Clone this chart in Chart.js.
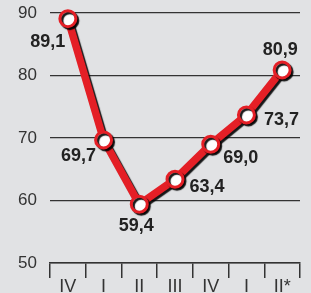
<!doctype html>
<html>
  <head>
    <meta charset="UTF-8" />
    <script src="https://cdn.jsdelivr.net/npm/chart.js"></script>
    <style>
      html, body { margin: 0; padding: 0; background: #e1e2e4; overflow: hidden; }
      canvas { display: block; }
    </style>
  </head>
  <body>
    <canvas id="chart" width="311" height="293"></canvas>
    <script>
      // données
      const quarters = ['IV', 'I', 'II', 'III', 'IV', 'I', 'II*'];
      const values = [89.1, 69.7, 59.4, 63.4, 69.0, 73.7, 80.9];
      const yTicks = [50, 60, 70, 80, 90];

      // décalage des étiquettes (px) par point
      const labelOffsets = [[-20, 23], [-25, 16], [-3, 22], [32, 8], [30, 14], [35, 5], [-2, -20]];

      const shadowPlugin = {
        id: 'shadow',
        beforeDatasetsDraw(chart) {
          const ctx = chart.ctx;
          ctx.save();
          ctx.shadowColor = 'rgba(0,0,0,0.9)';
          ctx.shadowOffsetX = 2;
          ctx.shadowOffsetY = 2;
          ctx.shadowBlur = 1;
        },
        afterDatasetsDraw(chart) {
          chart.ctx.restore();
        },
      };

      const labelPlugin = {
        id: 'labels',
        afterDatasetsDraw(chart) {
          const ctx = chart.ctx;
          const meta = chart.getDatasetMeta(0);
          ctx.save();
          ctx.font = 'bold 18px "Liberation Sans", Arial, sans-serif';
          ctx.fillStyle = '#222';
          ctx.textAlign = 'center';
          ctx.textBaseline = 'middle';
          meta.data.forEach((pt, i) => {
            const txt = values[i].toFixed(1).replace('.', ',');
            ctx.fillText(txt, pt.x + labelOffsets[i][0], pt.y + labelOffsets[i][1]);
          });
          ctx.restore();
        },
      };

      new Chart(document.getElementById('chart'), {
        type: 'line',
        data: {
          labels: quarters,
          datasets: [
            {
              data: values,
              borderColor: '#e41f26',
              borderWidth: 7.5,
              pointBackgroundColor: '#ffffff',
              pointBorderColor: '#e41f26',
              pointBorderWidth: 3,
              pointRadius: 8,
              tension: 0,
              clip: false,
            },
          ],
        },
        options: {
          responsive: false,
          animation: false,
          layout: { padding: { top: 13, right: 4, left: 0, bottom: 0 } },
          plugins: { legend: { display: false }, tooltip: { enabled: false } },
          scales: {
            x: {
              offset: true,
              afterFit(scale) {
                scale.height = 30;
                scale.paddingLeft = 0;
                scale.paddingRight = 0;
              },
              grid: {
                offset: true,
                drawOnChartArea: false,
                drawTicks: true,
                tickLength: 15,
                color: '#333',
                lineWidth: 1.5,
              },
              border: { display: true, color: '#333', width: 1.5 },
              ticks: {
                color: '#333',
                padding: -2,
                font: { family: '"Liberation Sans", Arial, sans-serif', size: 18 },
              },
            },
            y: {
              min: 50,
              max: 90,
              afterFit(scale) {
                scale.width = 50;
                scale.paddingTop = 0;
                scale.paddingBottom = 0;
              },
              afterBuildTicks(scale) { scale.ticks = yTicks.map((v) => ({ value: v })); },
              grid: { drawTicks: false, color: '#333', lineWidth: 1.2 },
              border: { display: false },
              ticks: {
                color: '#333',
                padding: 13,
                font: { family: '"Liberation Sans", Arial, sans-serif', size: 17 },
              },
            },
          },
        },
        plugins: [shadowPlugin, labelPlugin],
      });
    </script>
  </body>
</html>
